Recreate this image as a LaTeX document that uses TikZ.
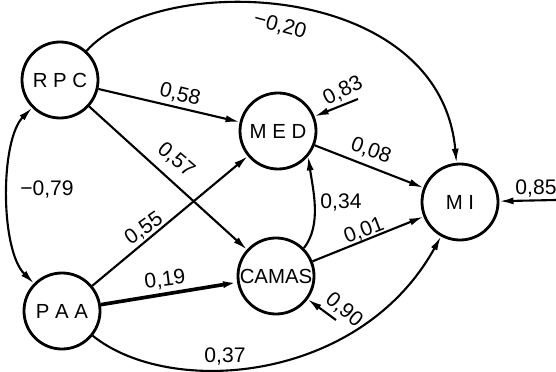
\documentclass[tikz,border=0pt]{standalone}
\usepackage{fontspec}
\setmainfont{Liberation Sans}
\usetikzlibrary{arrows.meta}

\begin{document}
\begin{tikzpicture}[x=0.025cm, y=-0.025cm,
		varnode/.style={draw, circle, line width=2pt, minimum size=1.9cm, inner sep=0pt, font=\fontsize{14.5}{16}\selectfont},
		link/.style={-{Latex[length=10pt, width=5pt]}, line width=1.5pt},
		coef/.style={font=\fontsize{15}{17}\selectfont, inner sep=0.5pt}]
			\useasboundingbox (0,0) rectangle (556,372);
			
			% Variables
			\node[varnode] (RPC) at (60,80) {R P C};
			\node[varnode] (MED) at (278,131) {M E D};
			\node[varnode] (CAMAS) at (276,276) {CAMAS};
			\node[varnode] (MI) at (460,202) {M I};
			\node[varnode] (PAA) at (62,311) {P A A};
			
			% Free ends of the residual arrows
			\coordinate (eMED) at (358,99);
			\coordinate (eMI) at (556,200);
			\coordinate (eCAMAS) at (336,320);
			
			% Correlation between the exogenous variables
			\draw[{Latex[length=10pt, width=5pt]}-{Latex[length=10pt, width=5pt]}, line width=1.5pt]
				(RPC) .. controls (0,140) and (0,250) .. (PAA);
			\node[coef] (c79) at (47,189) {−0,79};
			
			% Direct paths
			\draw[link] (RPC) -- (MED);
			\draw[link] (RPC) -- (CAMAS);
			\draw[link] (PAA) -- (MED);
			\draw[link, line width=2.6pt] (PAA) -- (CAMAS);
			\draw[link] (MED) -- (MI);
			\draw[link] (CAMAS) -- (MI);
			\draw[link] (CAMAS.45) .. controls (322,225) and (313,190) .. (MED.-40);
			\draw[link] (RPC) .. controls (160,-30) and (440,-20) .. (MI);
			\draw[link] (PAA) .. controls (170,398) and (360,383) .. (MI);
			
			% Residuals
			\draw[link] (eMED) -- (MED);
			\draw[link] (eMI) -- (MI);
			\draw[link] (eCAMAS) -- (CAMAS);
			
			% Path coefficients
			\node[coef, rotate=-14] (c58) at (180,95) {0,58};
			\node[coef, rotate=-40] (c57) at (176,160) {0,57};
			\node[coef, rotate=35] (c55) at (144,229) {0,55};
			\node[coef, rotate=7] (c19) at (165,280) {0,19};
			\node[coef] (c37) at (225,356) {0,37};
			\node[coef, rotate=-15] (c20) at (280,26) {−0,20};
			\node[coef, rotate=27] (c83) at (343,91) {0,83};
			\node[coef, rotate=-20] (c08) at (371,151) {0,08};
			\node[coef] (c34) at (341,202) {0,34};
			\node[coef, rotate=21] (c01) at (364,231) {0,01};
			\node[coef] (c85) at (536,188) {0,85};
			\node[coef, rotate=-40] (c90) at (344,310) {0,90};
			
		\end{tikzpicture}
\end{document}
